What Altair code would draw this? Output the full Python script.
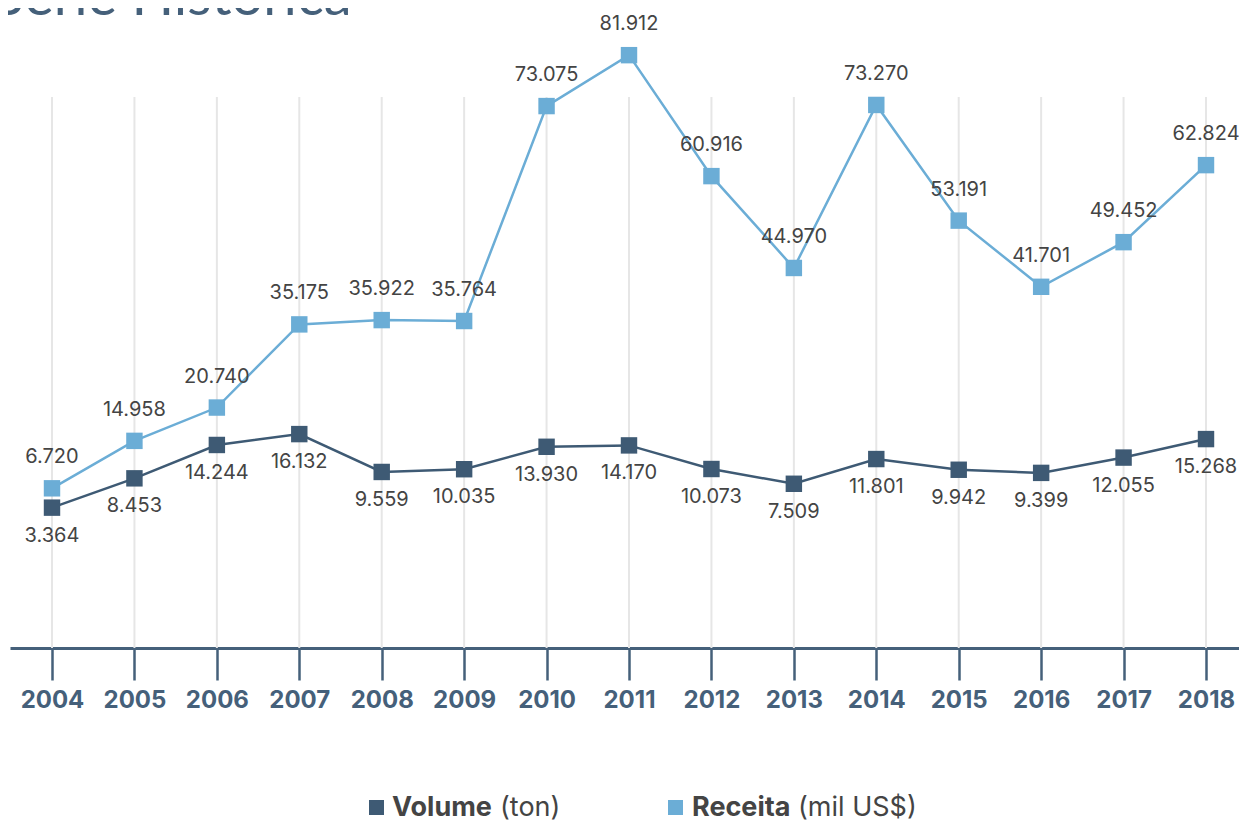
import altair as alt
import pandas as pd

years = list(range(2004, 2019))
volume = [3.364, 8.453, 14.244, 16.132, 9.559, 10.035, 13.930, 14.170,
          10.073, 7.509, 11.801, 9.942, 9.399, 12.055, 15.268]
receita = [6.720, 14.958, 20.740, 35.175, 35.922, 35.764, 73.075, 81.912,
           60.916, 44.970, 73.270, 53.191, 41.701, 49.452, 62.824]
series_names = ["Volume", "Receita"]
series_colors = ["#3e5a74", "#6badd6"]
title_text = "Série Histórica"
legend_bold = ["Volume", "Receita"]
legend_unit = ["(ton)", "(mil US$)"]

AXIS_COLOR = "#45607a"
LABEL_COLOR = "#444444"
FONT = "Inter"

rows = []
for y, v, r in zip(years, volume, receita):
    rows.append({"year": y, "series": "Volume", "value": v})
    rows.append({"year": y, "series": "Receita", "value": r})
df = pd.DataFrame(rows)
years_df = pd.DataFrame({"year": years})

x_enc = alt.X(
    "year:Q",
    scale=alt.Scale(domain=[2003.4905, 2018.4003], nice=False, zero=False),
    axis=alt.Axis(
        values=years, format="d", title=None, grid=False,
        domainColor=AXIS_COLOR, domainWidth=3,
        tickColor=AXIS_COLOR, tickWidth=2.5, tickSize=32,
        labelFont=FONT, labelFontSize=24, labelFontWeight="bold",
        labelColor=AXIS_COLOR, labelPadding=8, labelFlush=False,
    ),
)
y_enc = alt.Y("value:Q", scale=alt.Scale(domain=[-21.0, 90.1], nice=False, zero=False), axis=None)
color_enc = alt.Color("series:N", scale=alt.Scale(domain=series_names, range=series_colors), legend=None)

grid = alt.Chart(years_df).mark_rule(color="#e6e6e6", strokeWidth=2).encode(
    x=x_enc, y=alt.value(89), y2=alt.value(640)
)

lines = alt.Chart(df).mark_line(strokeWidth=2.5).encode(x=x_enc, y=y_enc, color=color_enc, detail="series:N")
points = alt.Chart(df).mark_square(size=270, opacity=1, filled=True).encode(x=x_enc, y=y_enc, color=color_enc)

lab_r = alt.Chart(df).transform_filter(alt.datum.series == "Receita").mark_text(
    dy=-31, font=FONT, fontSize=20, color=LABEL_COLOR
).encode(x=x_enc, y=y_enc, text=alt.Text("value:Q", format=".3f"))
lab_v = alt.Chart(df).transform_filter(alt.datum.series == "Volume").mark_text(
    dy=28, font=FONT, fontSize=20, color=LABEL_COLOR
).encode(x=x_enc, y=y_enc, text=alt.Text("value:Q", format=".3f"))

title = alt.Chart(pd.DataFrame({"t": [title_text]})).mark_text(
    align="left", baseline="alphabetic", font="Lato", fontSize=56, fontWeight="normal", color=AXIS_COLOR
).encode(x=alt.value(-16), y=alt.value(7), text="t:N")

leg_sq = alt.Chart(pd.DataFrame({"series": series_names, "px": [366.5, 665.5]})).mark_square(
    size=225, opacity=1, filled=True
).encode(x=alt.X("px:Q", scale=None), y=alt.value(799.5), color=color_enc)
leg_bold = alt.Chart(pd.DataFrame({"t": legend_bold, "px": [382, 682]})).mark_text(
    align="left", baseline="alphabetic", font=FONT, fontSize=27, fontWeight="bold", color=LABEL_COLOR
).encode(x=alt.X("px:Q", scale=None), y=alt.value(808), text="t:N")
leg_unit = alt.Chart(pd.DataFrame({"t": legend_unit, "px": [490, 788]})).mark_text(
    align="left", baseline="alphabetic", font=FONT, fontSize=27, color=LABEL_COLOR
).encode(x=alt.X("px:Q", scale=None), y=alt.value(808), text="t:N")

chart = alt.layer(
    grid, lines, points, lab_r, lab_v, title, leg_sq, leg_bold, leg_unit
).properties(
    width=1229, height=640,
    padding={"left": 2, "top": 0, "right": 0, "bottom": 174},
    autosize=alt.AutoSizeParams(type="none"),
).configure_view(stroke=None)

chart.save("out.html", embed_options={"renderer": "svg", "actions": False})
